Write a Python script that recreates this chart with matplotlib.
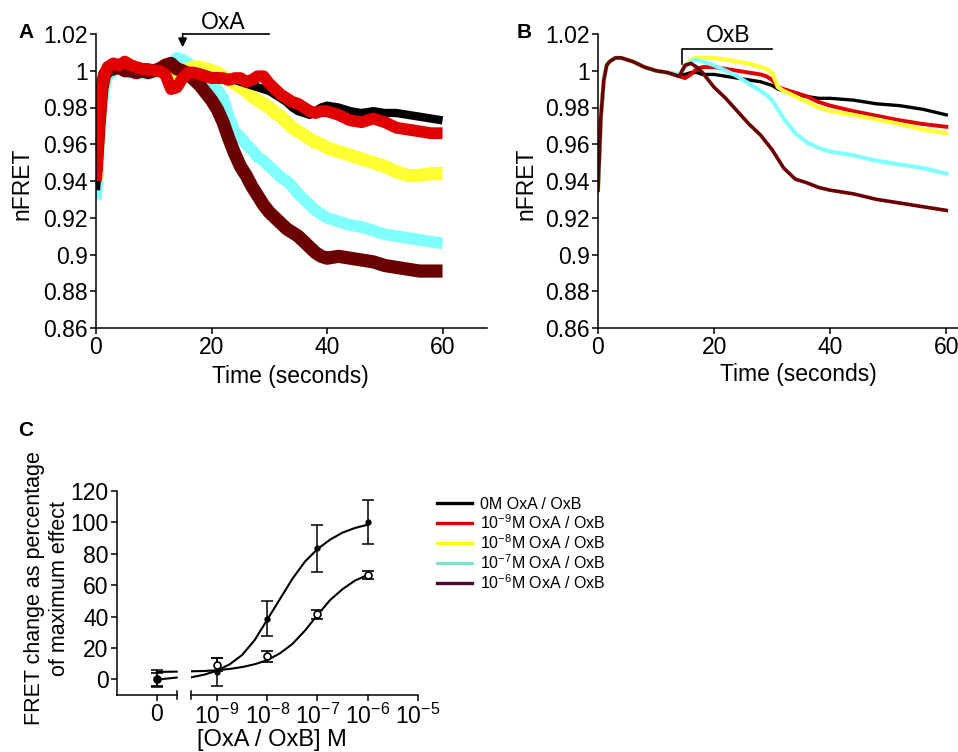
import matplotlib
matplotlib.use('Agg')
import matplotlib.pyplot as plt
from matplotlib.lines import Line2D
from matplotlib.ticker import NullLocator, FixedLocator

plt.rcParams['font.family'] = ['Liberation Sans', 'DejaVu Sans']
plt.rcParams['axes.linewidth'] = 1.1
plt.rcParams['axes.unicode_minus'] = False

# ---- panel A: OxA time courses (band centres) ----
tA = [0, 0.5, 1, 1.5, 2, 3, 4, 5, 6, 7, 8, 9, 10, 11, 12, 13, 14, 15, 16, 17,
      18, 19, 20, 21, 22, 23, 24, 25, 26, 27, 28, 29, 30, 31, 32, 33, 34, 35,
      36, 37, 38, 39, 40, 42, 44, 46, 48, 50, 52, 54, 56, 58, 60]
a_0 = [0.935, 0.962, 0.985, 0.996, 1.0, 1.002, 1.003, 1.003, 1.004, 1.002, 1.002,
       1.001, 1.0, 1.001, 1.002, 1.003, 1.002, 1.001, 1.0, 0.999, 0.999, 0.998,
       0.997, 0.997, 0.996, 0.996, 0.995, 0.994, 0.993, 0.992, 0.991, 0.99, 0.989,
       0.987, 0.985, 0.983, 0.98, 0.978, 0.977, 0.976, 0.978, 0.98, 0.981, 0.98,
       0.978, 0.977, 0.978, 0.977, 0.977, 0.976, 0.975, 0.974, 0.973]
a_9 = [0.94, 0.968, 0.99, 0.998, 1.002, 1.004, 1.003, 1.005, 1.003, 1.002, 1.001,
       1.001, 1.0, 1.0, 0.998, 0.99, 0.991, 0.996, 0.999, 0.999, 0.998, 0.997,
       0.996, 0.996, 0.996, 0.995, 0.996, 0.996, 0.994, 0.995, 0.997, 0.997, 0.993,
       0.99, 0.987, 0.985, 0.983, 0.982, 0.98, 0.978, 0.977, 0.978, 0.978, 0.976,
       0.973, 0.972, 0.974, 0.972, 0.969, 0.968, 0.967, 0.966, 0.966]
a_8 = [0.94, 0.968, 0.99, 0.998, 1.0, 1.002, 1.002, 1.002, 1.002, 1.001, 1.0,
       1.0, 1.0, 1.0, 1.0, 0.999, 0.999, 1.0, 1.001, 1.002, 1.002, 1.001, 1.0,
       0.999, 0.997, 0.995, 0.993, 0.991, 0.989, 0.986, 0.984, 0.982, 0.98, 0.977,
       0.975, 0.972, 0.969, 0.967, 0.965, 0.963, 0.961, 0.96, 0.958, 0.956, 0.954,
       0.952, 0.95, 0.948, 0.945, 0.943, 0.943, 0.944, 0.944]
a_7 = [0.93, 0.955, 0.98, 0.992, 0.997, 1.0, 1.001, 1.0, 0.999, 0.998, 0.999,
       0.998, 0.999, 1.0, 1.001, 1.003, 1.007, 1.006, 1.004, 1.002, 1.0, 0.997,
       0.994, 0.99, 0.985, 0.975, 0.967, 0.964, 0.96, 0.957, 0.953, 0.951, 0.948,
       0.945, 0.942, 0.94, 0.937, 0.933, 0.93, 0.927, 0.924, 0.922, 0.92, 0.918,
       0.916, 0.915, 0.913, 0.911, 0.91, 0.909, 0.908, 0.907, 0.906]
a_6 = [0.945, 0.97, 0.99, 0.998, 1.0, 1.001, 1.002, 1.0, 1.0, 0.999, 1.0, 0.999,
       1.0, 1.001, 1.003, 1.004, 1.001, 1.0, 0.998, 0.995, 0.992, 0.988, 0.984,
       0.979, 0.972, 0.963, 0.955, 0.948, 0.943, 0.937, 0.932, 0.927, 0.923, 0.92,
       0.917, 0.914, 0.912, 0.91, 0.907, 0.904, 0.901, 0.899, 0.898, 0.899, 0.898,
       0.897, 0.896, 0.894, 0.893, 0.892, 0.891, 0.891, 0.891]

# ---- panel B: OxB time courses ----
tB = [0, 0.5, 1, 1.5, 2, 3, 4, 5, 6, 8, 10, 12, 14, 15, 16, 17, 18, 20, 22, 24,
      26, 28, 29, 30, 31, 32, 34, 36, 38, 40, 44, 48, 52, 56, 60]
b_0 = [0.935, 0.975, 0.995, 1.003, 1.005, 1.007, 1.007, 1.006, 1.005, 1.002, 1.0,
       0.999, 0.998, 0.998, 0.999, 0.999, 0.998, 0.998, 0.997, 0.996, 0.995, 0.994,
       0.993, 0.992, 0.99, 0.989, 0.987, 0.986, 0.985, 0.985, 0.984, 0.982, 0.981,
       0.979, 0.976]
b_9 = [0.935, 0.975, 0.995, 1.003, 1.005, 1.007, 1.007, 1.006, 1.005, 1.002, 1.0,
       0.999, 0.997, 0.996, 0.998, 1.001, 1.002, 1.002, 1.001, 1.0, 0.999, 0.998,
       0.997, 0.995, 0.991, 0.99, 0.988, 0.986, 0.983, 0.981, 0.978, 0.9755, 0.973,
       0.971, 0.9695]
b_8 = [0.935, 0.975, 0.995, 1.003, 1.005, 1.007, 1.007, 1.006, 1.005, 1.002, 1.0,
       0.999, 0.998, 1.002, 1.006, 1.007, 1.007, 1.007, 1.006, 1.005, 1.004, 1.002,
       1.001, 0.999, 0.991, 0.989, 0.986, 0.983, 0.98, 0.978, 0.976, 0.9735, 0.971,
       0.968, 0.966]
b_7 = [0.935, 0.975, 0.995, 1.003, 1.005, 1.007, 1.007, 1.006, 1.005, 1.002, 1.0,
       0.999, 0.998, 1.002, 1.005, 1.006, 1.005, 1.003, 1.0, 0.997, 0.993, 0.989,
       0.987, 0.984, 0.979, 0.974, 0.966, 0.961, 0.958, 0.956, 0.954, 0.951, 0.949,
       0.947, 0.944]
b_6 = [0.935, 0.975, 0.995, 1.003, 1.005, 1.007, 1.007, 1.006, 1.005, 1.002, 1.0,
       0.999, 0.997, 1.003, 1.004, 1.002, 0.999, 0.991, 0.985, 0.978, 0.971, 0.965,
       0.961, 0.957, 0.952, 0.947, 0.941, 0.939, 0.9365, 0.935, 0.933, 0.93, 0.928,
       0.926, 0.924]

# ---- panel C: concentration response ----
conc_log = [-9, -8, -7, -6]
closed_mean = [4.7, 38.7, 83.5, 100.0]
closed_err = [9.0, 11.0, 15.0, 14.0]
open_mean = [9.3, 14.6, 41.4, 66.5]
open_err = [4.0, 3.7, 3.0, 2.5]
zero_closed, zero_closed_err = 0.4, 5.5
zero_open, zero_open_err = 0.0, 4.0

fit_logx = [-9.52, -9.25, -9.0, -8.75, -8.5, -8.25, -8.0, -7.75, -7.5, -7.25,
            -7.0, -6.75, -6.5, -6.25, -6.0]
fit_closed = [1.2, 3.0, 5.5, 9.5, 15.5, 25.0, 38.0, 51.0, 64.0, 75.0, 83.0, 89.0,
              93.5, 96.5, 98.5]
fit_open = [5.1, 5.3, 5.8, 6.6, 7.8, 9.6, 12.2, 16.5, 22.5, 31.0, 41.0, 50.5,
            57.5, 63.0, 66.5]
zero_seg_x = [0, 0.5]
zero_seg_closed = [-0.2, 1.1]
zero_seg_open = [4.7, 4.9]

legend_labels = ['0M OxA / OxB',
                 r'$\mathdefault{10^{-9}}$M OxA / OxB',
                 r'$\mathdefault{10^{-8}}$M OxA / OxB',
                 r'$\mathdefault{10^{-7}}$M OxA / OxB',
                 r'$\mathdefault{10^{-6}}$M OxA / OxB']
legend_colors = ['#000000', '#e00000', '#ffff00', '#7fe3d2', '#4c0a2c']

trace_colors = {'0': '#000000', '9': '#e00000', '8': '#ffff33',
                '7': '#80ffff', '6': '#6b0000'}

W, H = 958, 752
fig = plt.figure(figsize=(W / 100, H / 100), dpi=100)


def px_axes(left, top, right, bottom):
    return fig.add_axes([left / W, 1 - bottom / H, (right - left) / W, (bottom - top) / H])


FS = 16.5
yt = [0.86, 0.88, 0.9, 0.92, 0.94, 0.96, 0.98, 1.0, 1.02]
ytl = ['0.86', '0.88', '0.9', '0.92', '0.94', '0.96', '0.98', '1', '1.02']


def style_trace_axes(ax, ylab_x, xlab_x, xlab_y):
    ax.set_xlim(0, 67.7)
    ax.set_ylim(0.86, 1.02)
    ax.spines['top'].set_visible(False)
    ax.spines['right'].set_visible(False)
    ax.set_xticks([0, 20, 40, 60])
    ax.set_yticks(yt)
    ax.set_yticklabels(ytl)
    ax.tick_params(direction='out', length=4.5, width=1.1, labelsize=FS, pad=1.5)
    ax.set_ylabel('nFRET', fontsize=FS)
    ax.yaxis.set_label_coords(ylab_x, 0.49)
    ax.set_xlabel('Time (seconds)', fontsize=FS)
    ax.xaxis.set_label_coords(xlab_x, xlab_y)


axA = px_axes(96, 34, 487, 328)
axB = px_axes(598, 34, 991, 328)
style_trace_axes(axA, -0.16, 0.496, -0.125)
style_trace_axes(axB, -0.153, 0.509, -0.118)

# noisy bands drawn as thick lines
axA.plot(tA, a_7, color=trace_colors['7'], lw=8.5, solid_capstyle='butt')
axA.plot(tA, a_8, color=trace_colors['8'], lw=9.5, solid_capstyle='butt')
axA.plot(tA, a_0, color=trace_colors['0'], lw=6, solid_capstyle='butt')
axA.plot(tA, a_6, color=trace_colors['6'], lw=9.5, solid_capstyle='butt')
axA.plot(tA, a_9, color=trace_colors['9'], lw=8.5, solid_capstyle='butt')

axB.plot(tB, b_0, color=trace_colors['0'], lw=2.4)
axB.plot(tB, b_9, color=trace_colors['9'], lw=2.8)
axB.plot(tB, b_8, color=trace_colors['8'], lw=3.0)
axB.plot(tB, b_7, color=trace_colors['7'], lw=3.0)
axB.plot(tB, b_6, color=trace_colors['6'], lw=2.6)

# agonist application bars
axA.plot([15, 30], [1.02, 1.02], color='k', lw=1.2, clip_on=False)
axA.annotate('', xy=(15, 1.0128), xytext=(15, 1.0202),
             arrowprops=dict(arrowstyle='-|>', color='k', lw=1.2,
                             mutation_scale=13, shrinkA=0, shrinkB=0),
             annotation_clip=False)
axA.text(22.0, 1.0262, 'OxA', fontsize=FS, ha='center', va='center')

axB.plot([14.4, 14.4, 30], [1.0037, 1.0118, 1.0118], color='k', lw=1.2, clip_on=False)
axB.text(22.4, 1.0192, 'OxB', fontsize=FS, ha='center', va='center')

# ---- panel C with broken x axis ----
axL = px_axes(117, 491, 176.7, 695)
axR = px_axes(190.7, 491, 418, 695)
for ax in (axL, axR):
    ax.set_ylim(-10, 120)
    ax.spines['top'].set_visible(False)
    ax.spines['right'].set_visible(False)
    ax.tick_params(direction='out', length=4.5, width=1.1, labelsize=FS, pad=1.5)
axR.spines['left'].set_visible(False)
axR.tick_params(axis='y', left=False, labelleft=False)

axL.set_xlim(-1, 0.5)
axL.set_xticks([0])
axL.set_yticks([0, 20, 40, 60, 80, 100, 120])

axR.set_xscale('log')
axR.set_xlim(10 ** -9.523, 1e-5)
axR.xaxis.set_major_locator(FixedLocator([1e-9, 1e-8, 1e-7, 1e-6, 1e-5]))
axR.xaxis.set_minor_locator(NullLocator())

for ax, xa in ((axL, 1.0), (axR, 0.0)):
    ax.plot([xa, xa], [-0.022, 0.022], transform=ax.transAxes, color='k',
            lw=1.1, clip_on=False)

cx = [10 ** v for v in fit_logx]
px = [10 ** v for v in conc_log]
axR.plot(cx, fit_closed, color='k', lw=1.5)
axR.plot(cx, fit_open, color='k', lw=1.5)
axL.plot(zero_seg_x, zero_seg_closed, color='k', lw=1.5, clip_on=False)
axL.plot(zero_seg_x, zero_seg_open, color='k', lw=1.5, clip_on=False)

ekw = dict(ecolor='k', elinewidth=1.1, capsize=4, capthick=1.1, ls='none')
axR.errorbar(px, open_mean, yerr=open_err, fmt='o', ms=5, mfc='white',
             mec='k', mew=1.2, **ekw)
axR.errorbar(px, closed_mean, yerr=closed_err, fmt='o', ms=3.5, mfc='k',
             mec='k', **ekw)
axL.errorbar([0], [zero_open], yerr=[zero_open_err], fmt='o', ms=5, mfc='white',
             mec='k', mew=1.2, **ekw)
axL.errorbar([0], [zero_closed], yerr=[zero_closed_err], fmt='o', ms=3.5,
             mfc='k', mec='k', **ekw)

fig.text(47 / W, 1 - 588 / H, 'FRET change as percentage\nof maximum effect',
         rotation=90, ha='center', va='center', fontsize=15.5,
         multialignment='center', linespacing=1.22)
fig.text(272 / W, 1 - 740 / H, '[OxA / OxB] M', ha='center', va='center', fontsize=17)

handles = [Line2D([], [], color=c, lw=2.4) for c in legend_colors]
fig.legend(handles, legend_labels, loc='upper left',
           bbox_to_anchor=(437 / W, 1 - 497 / H), frameon=False, fontsize=11.5,
           handlelength=2.2, handletextpad=0.5, labelspacing=0.08,
           borderpad=0, borderaxespad=0)

# panel letters
for lx, ly, s in ((18, 33, 'A'), (517, 33, 'B'), (18, 430, 'C')):
    fig.text(lx / W, 1 - ly / H, s, fontsize=15, fontweight='bold', va='center')

fig.savefig('out.png', dpi=100)
